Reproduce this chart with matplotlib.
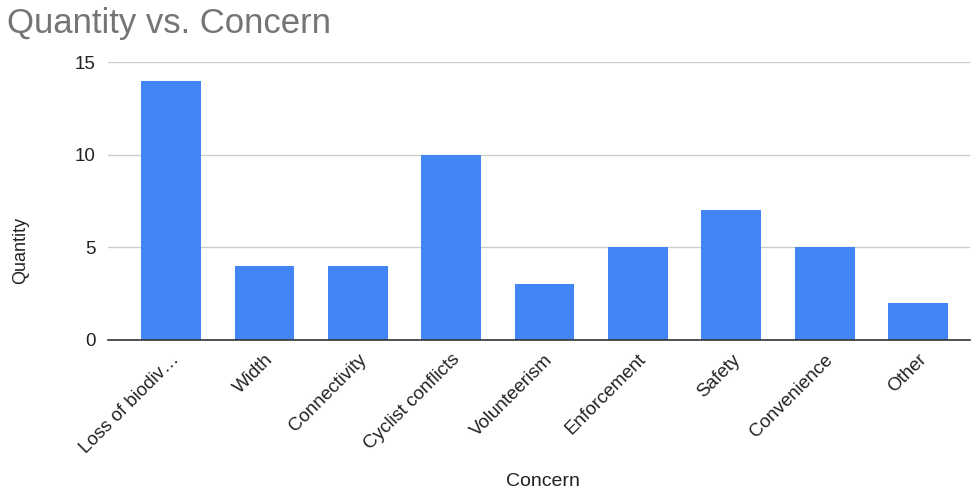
import matplotlib
matplotlib.use("Agg")
import matplotlib.pyplot as plt

categories = ["Loss of biodiv…", "Width", "Connectivity", "Cyclist conflicts",
              "Volunteerism", "Enforcement", "Safety", "Convenience", "Other"]
quantities = [14, 4, 4, 10, 3, 5, 7, 5, 2]
yticks = [0, 5, 10, 15]

plt.rcParams['font.family'] = ['Liberation Sans', 'DejaVu Sans']

fig = plt.figure(figsize=(9.71, 4.90), dpi=100)
ax = fig.add_axes([108/971, 1-340/490, 862/971, 278/490])
x = list(range(len(categories)))
ax.bar(x, quantities, width=0.64, color='#4285F4', zorder=3)
ax.set_xlim(-0.675, 8.557)
ax.set_ylim(0, 15)
ax.set_yticks(yticks)
ax.set_yticklabels([str(v) for v in yticks], fontsize=13.5, color='#222222')
ax.set_xticks(x)
ax.set_xticklabels(categories, rotation=45, ha='right', rotation_mode='anchor',
                   fontsize=13.5, color='#222222')
ax.tick_params(axis='y', length=0, pad=9)
ax.tick_params(axis='x', length=0, pad=8)
for s in ['top', 'right', 'left']:
    ax.spines[s].set_visible(False)
ax.spines['bottom'].set_color('#333333')
ax.spines['bottom'].set_linewidth(1.2)
ax.spines['bottom'].set_zorder(4)
ax.yaxis.grid(True, color='#cccccc', linewidth=1)
ax.set_axisbelow(True)
fig.text(21/971, 1-250/490, 'Quantity', fontsize=13, color='#222222', ha='center', va='center', rotation=90)
fig.text(543/971, 1-481/490, 'Concern', fontsize=14, color='#222222', ha='center', va='center')
fig.text(7/971, 1-24/490, 'Quantity vs. Concern', fontsize=25, color='#757575', ha='left', va='center')
fig.savefig('out.png', dpi=100)
